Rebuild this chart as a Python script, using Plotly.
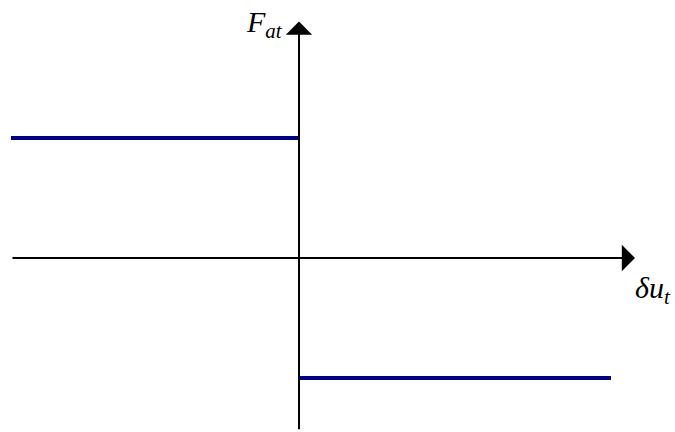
import plotly.graph_objects as go

# Force de frottement (signe) en fonction du glissement
du_left = [-2.4, 0.0]
f_left = [1.0, 1.0]
du_right = [0.0, 2.6]
f_right = [-1.0, -1.0]

# Extremites des axes
x_axis = [-2.4, 2.8]
y_axis = [-1.44, 1.97]

LINE_COLOR = "#000080"

fig = go.Figure()

fig.add_trace(go.Scatter(x=du_left, y=f_left, mode="lines",
                         line=dict(color=LINE_COLOR, width=4), hoverinfo="skip"))
fig.add_trace(go.Scatter(x=du_right, y=f_right, mode="lines",
                         line=dict(color=LINE_COLOR, width=4), hoverinfo="skip"))

# Axes avec fleches
arrows = [
    dict(x=x_axis[1], y=0, ax=x_axis[0], ay=0),
    dict(x=0, y=y_axis[1], ax=0, ay=y_axis[0]),
]
annotations = [
    dict(a, xref="x", yref="y", axref="x", ayref="y", text="", showarrow=True,
         arrowhead=1, arrowsize=2.2, arrowwidth=2, arrowcolor="black")
    for a in arrows
]

# Etiquettes des axes
annotations += [
    dict(x=-0.29, y=1.95, xref="x", yref="y", showarrow=False,
         text="<i>F<sub>at</sub></i>", xanchor="center", yanchor="middle",
         font=dict(family="Liberation Serif", size=30, color="black")),
    dict(x=2.95, y=-0.27, xref="x", yref="y", showarrow=False,
         text="<i>δu<sub>t</sub></i>", xanchor="center", yanchor="middle",
         font=dict(family="Liberation Serif", size=30, color="black")),
]

fig.update_layout(
    width=675,
    height=432,
    showlegend=False,
    plot_bgcolor="white",
    paper_bgcolor="white",
    margin=dict(l=0, r=0, t=0, b=0),
    xaxis=dict(range=[-299 / 120, 376 / 120], visible=False, fixedrange=True),
    yaxis=dict(range=[-174 / 120, 258 / 120], visible=False, fixedrange=True),
    annotations=annotations,
)

fig.write_html("out.html", config=dict(displayModeBar=False),
               post_script="document.body.style.margin='0';")
